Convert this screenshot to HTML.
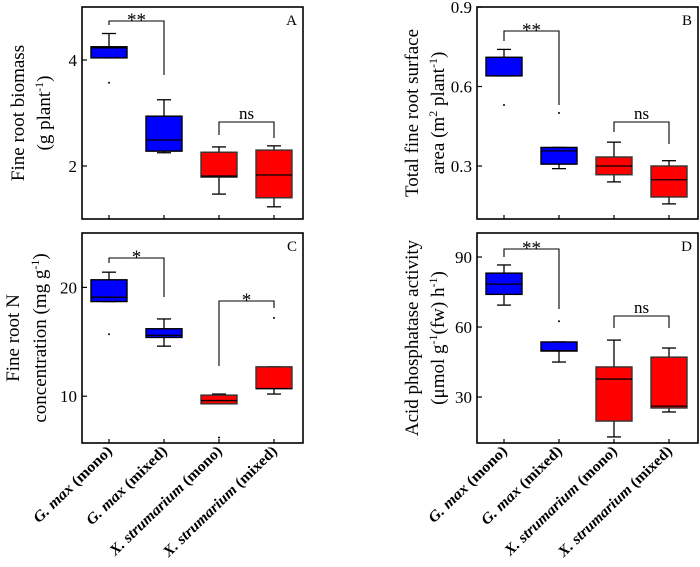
<!DOCTYPE html>
<html><head><meta charset="utf-8"><style>
body{margin:0;background:#fff;width:700px;height:562px;overflow:hidden}
svg, svg text{font-family:"Liberation Serif","Times New Roman",serif}
</style></head><body>
<svg id="c" width="700" height="562" font-family="Liberation Serif, serif"></svg>
<script>
const categories=["G. max|(mono)","G. max|(mixed)","X. strumarium|(mono)","X. strumarium|(mixed)"];
const colors=["#0000ff","#0000ff","#ff0000","#ff0000"];
// [lowWhisker,q1,median,q3,highWhisker]
const statsA=[[4.04,4.04,4.23,4.25,4.5],[2.25,2.28,2.49,2.94,3.25],[1.47,1.79,1.81,2.26,2.36],[1.23,1.40,1.83,2.30,2.38]];
const outliersA=[[3.57],[],[],[]];
const statsB=[[0.64,0.64,0.71,0.71,0.74],[0.29,0.307,0.357,0.37,0.37],[0.24,0.267,0.30,0.334,0.39],[0.157,0.183,0.248,0.30,0.32]];
const outliersB=[[0.53],[0.50],[],[]];
const statsC=[[18.7,18.7,19.1,20.7,21.4],[14.6,15.4,15.6,16.2,17.1],[9.3,9.3,9.6,10.1,10.2],[10.2,10.7,10.7,12.7,12.7]];
const outliersC=[[15.7],[],[6.2],[17.2]];
const statsD=[[69.4,74,78.4,83.1,86.6],[45,49.7,49.9,53.6,53.6],[12.9,19.7,37.7,42.9,54.4],[23.6,25.3,26.1,47.1,51]];
const outliersD=[[],[62.5],[],[]];
const ticksA=[2,4],ticksB=[0.3,0.6,0.9],ticksC=[10,20],ticksD=[30,60,90];
const svg=document.getElementById('c');
const NS="http://www.w3.org/2000/svg";
function el(t,a,p){const e=document.createElementNS(NS,t);for(const k in a)e.setAttribute(k,a[k]);(p||svg).appendChild(e);return e;}
function panel(name,x0,x1,y0,y1,vmin,vmax,stats,outs,ticks,tickFmt,letter,brackets,ylab){
  const g=el('g',{});
  
  
  const sy=v=>y1-(v-vmin)/(vmax-vmin)*(y1-y0);
  const xs=[27,82,137,192].map(d=>x0+d);
  ticks.forEach(t=>{
    el('line',{x1:x0,x2:x0+5,y1:sy(t),y2:sy(t),stroke:'#000','stroke-width':1.2},g);
    const tx=el('text',{x:x0-5,y:sy(t)+6,'text-anchor':'end','font-size':17},g);
    tx.textContent=tickFmt(t);
    
    
  });
  xs.forEach(x=>el('line',{x1:x,x2:x,y1:y1,y2:y1-4,stroke:'#000','stroke-width':1.2},g));
  stats.forEach((s,i)=>{
    const x=xs[i],w=36,cw=14;
    const bg=el('g',{},g);
    
    
    el('line',{x1:x,x2:x,y1:sy(s[0]),y2:sy(s[4]),stroke:'#000','stroke-width':1.3},bg);
    el('line',{x1:x-cw/2,x2:x+cw/2,y1:sy(s[0]),y2:sy(s[0]),stroke:'#000','stroke-width':1.3},bg);
    el('line',{x1:x-cw/2,x2:x+cw/2,y1:sy(s[4]),y2:sy(s[4]),stroke:'#000','stroke-width':1.3},bg);
    el('rect',{x:x-w/2,y:sy(s[3]),width:w,height:Math.max(1,sy(s[1])-sy(s[3])),fill:colors[i],stroke:i<2?'#000':'#333','stroke-width':1.4},bg);
    el('line',{x1:x-w/2,x2:x+w/2,y1:sy(s[2]),y2:sy(s[2]),stroke:'#000','stroke-width':1.3},bg);
    outs[i].forEach(o=>el('circle',{cx:x,cy:sy(o),r:1,fill:'#000'},bg));
  });
  brackets.forEach(b=>{
    const [i,j,yt,yl,yr,lab]=b;
    el('path',{d:`M${xs[i]} ${yl}V${yt}H${xs[j]}V${yr}`,fill:'none',stroke:'#000','stroke-width':1.1},g);
    const t=el('text',{x:(xs[i]+xs[j])/2,y:lab==='ns'?yt-3:yt+5,'text-anchor':'middle','font-size':lab==='ns'?17:19},g);
    t.textContent=lab;
    
    
  });
  el('rect',{x:x0,y:y0,width:x1-x0,height:y1-y0,fill:'none',stroke:'#000','stroke-width':1.6},g);
  const L=el('text',{x:x1-6,y:y0+18,'text-anchor':'end','font-size':15},g);
  L.textContent=letter;
  
  
  ylab.forEach(ln=>{
    const cx=ln[0],cy=(y0+y1)/2;
    const t=el('text',{x:cx,y:cy,'text-anchor':'middle','font-size':19,transform:`rotate(-90 ${cx} ${cy})`},g);
    t.innerHTML=ln[1];
    
    
  });
  return xs;
}
const f1=t=>String(t), f2=t=>t.toFixed(1);
panel('a',82,303,7,219,1,5,statsA,outliersA,ticksA,f1,'A',[[0,1,21,25,75,'**'],[2,3,122,135,138,'ns']],
 [[24,'Fine root biomass'],[50,'(g plant<tspan dy="-7" font-size="12">-1</tspan><tspan dy="7">)</tspan>']]);
panel('b',477,698,7,219,0.1,0.9,statsB,outliersB,ticksB,f2,'B',[[0,1,31,41,105,'**'],[2,3,122,132,144,'ns']],
 [[418,'Total fine root surface'],[444,'area (m<tspan dy="-7" font-size="12">2</tspan><tspan dy="7"> plant</tspan><tspan dy="-7" font-size="12">-1</tspan><tspan dy="7">)</tspan>']]);
const xsC=panel('c',82,303,233,443,5.7,25,statsC,outliersC,ticksC,f1,'C',[[0,1,258,263,297,'*'],[2,3,301,366,308,'*']],
 [[19,'Fine root N'],[46,'concentration (mg g<tspan dy="-7" font-size="12">-1</tspan><tspan dy="7">)</tspan>']]);
const xsD=panel('d',477,698,233,443,10.3,100.3,statsD,outliersD,ticksD,f1,'D',[[0,1,249,257,309,'**'],[2,3,316,328,328,'ns']],
 [[418,'Acid phosphatase activity'],[444,'(μmol g<tspan dy="-7" font-size="12">-1</tspan><tspan dy="7">(fw) h</tspan><tspan dy="-7" font-size="12">-1</tspan><tspan dy="7">)</tspan>']]);
const labLens=[103,106,150,152];
[xsC,xsD].forEach(xs=>{
  xs.forEach((x,i)=>{
    const [sp,gr]=categories[i].split('|');
    const t=el('text',{x:x+4,y:452,'text-anchor':'end','font-size':15,'font-weight':'bold',textLength:labLens[i],lengthAdjust:'spacingAndGlyphs',transform:`rotate(-44 ${x+4} 452)`});
    t.innerHTML=`<tspan font-style="italic">${sp}</tspan> ${gr}`;
    
    
  });
});
</script>
</body></html>
